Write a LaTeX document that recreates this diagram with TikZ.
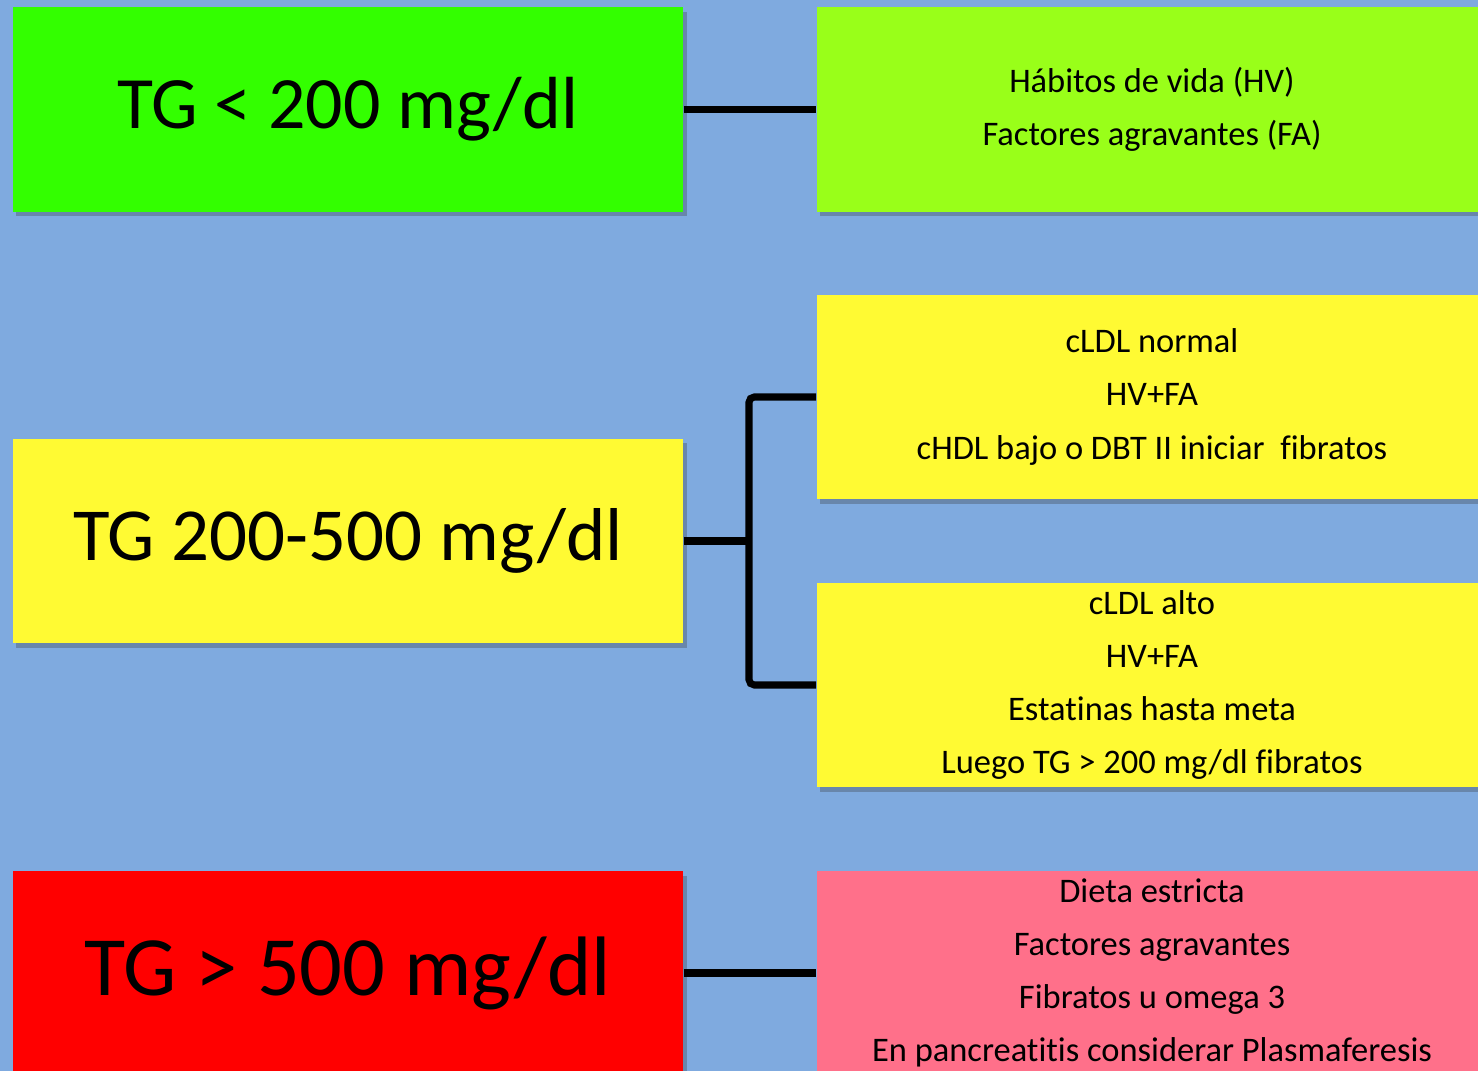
\documentclass[tikz,border=0pt]{standalone}
\usepackage{fontspec}
\setmainfont[Ligatures=NoCommon]{Carlito}
\usetikzlibrary{shadows}

\definecolor{fondo}{RGB}{127,170,223}
\definecolor{verde}{RGB}{51,255,0}
\definecolor{lima}{RGB}{153,255,25}
\definecolor{amarillo}{RGB}{255,250,51}
\definecolor{rojo}{RGB}{255,0,0}
\definecolor{rosa}{RGB}{255,112,138}

\begin{document}
\begin{tikzpicture}[x=0.01cm, y=-0.01cm,
    caja/.style={inner sep=0pt, minimum width=6.70cm, minimum height=2.04cm,
      align=center, drop shadow={shadow xshift=1pt, shadow yshift=-1.3pt,
      opacity=.3, fill=black!80}},
    grande/.style={caja, font=\fontsize{21}{25}\selectfont},
    chica/.style={caja, font=\fontsize{9.8}{15.1}\selectfont},
    conector/.style={line width=2pt, black, rounded corners=1.5pt}]
  \useasboundingbox (0,0) rectangle (1478,1071);
  \clip (0,0) rectangle (1478,1071);
  \fill[fondo] (0,0) rectangle (1478,1071);

  % Niveles de TG
  \node[grande, fill=verde] (tg1) at (348,109.5) {TG < 200 mg/dl};
  \node[grande, fill=amarillo, font=\fontsize{21.3}{25}\selectfont] (tg2) at (348,541) {TG 200-500 mg/dl};
  \node[grande, fill=rojo, font=\fontsize{24}{28}\selectfont] (tg3) at (348,973) {TG > 500 mg/dl};

  % Conductas
  \node[chica, fill=lima] (c1) at (1152,109.5)
    {Hábitos de vida (HV)\\Factores agravantes (FA)};
  \node[chica, fill=amarillo] (c2) at (1152,397)
    {cLDL normal\\HV+FA\\cHDL bajo o DBT II iniciar\ \ fibratos};
  \node[chica, fill=amarillo] (c3) at (1152,685)
    {cLDL alto\\HV+FA\\Estatinas hasta meta\\Luego TG > 200 mg/dl fibratos};
  \node[chica, fill=rosa] (c4) at (1152,973)
    {Dieta estricta\\Factores agravantes\\Fibratos u omega 3\\En pancreatitis considerar Plasmaferesis};

  % Conectores
  \coordinate (nudo) at (749,541);
  \draw[conector] (tg1.east) -- (c1.west);
  \draw[conector] (tg2.east) -- (nudo);
  \draw[conector] (c2.west) -| (nudo) |- (c3.west);
  \draw[conector] (tg3.east) -- (c4.west);
\end{tikzpicture}
\end{document}
